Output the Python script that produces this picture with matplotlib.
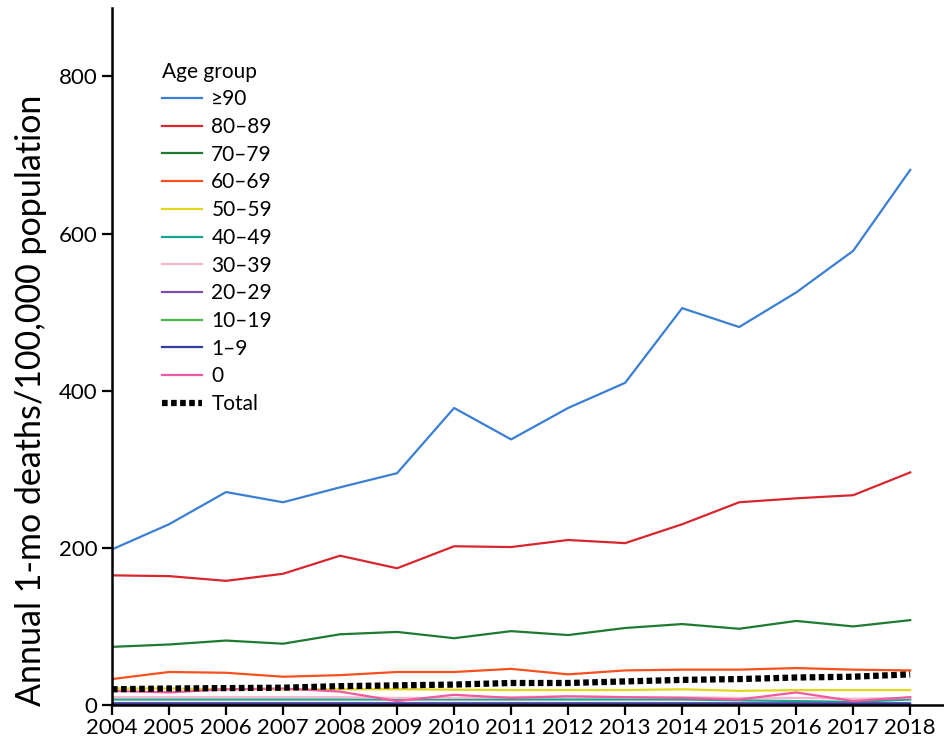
import numpy as np
import matplotlib
matplotlib.use('Agg')
import matplotlib.pyplot as plt

plt.rcParams['font.family'] = ['Lato', 'DejaVu Sans']

# Data
years = list(range(2004, 2019))
groups = ['\u226590', '80\u201389', '70\u201379', '60\u201369', '50\u201359', '40\u201349',
          '30\u201339', '20\u201329', '10\u201319', '1\u20139', '0']
age_90 = [198, 230, 271, 258, 277, 295, 378, 338, 378, 410, 505, 481, 525, 578, 681]
age_80 = [165, 164, 158, 167, 190, 174, 202, 201, 210, 206, 230, 258, 263, 267, 296]
age_70 = [74, 77, 82, 78, 90, 93, 85, 94, 89, 98, 103, 97, 107, 100, 108]
age_60 = [33, 42, 41, 36, 38, 42, 42, 46, 39, 44, 45, 45, 47, 45, 44]
age_50 = [21, 21, 20, 20, 20, 20, 19.5, 19, 19, 19, 20, 18, 19, 19, 19]
age_40 = [7, 7, 7, 7, 7, 7, 7, 7, 7, 7, 7, 6, 5, 4, 7]
age_30 = [10, 10, 10, 10, 10, 9, 9, 10, 11, 10, 10, 9, 9, 8, 9]
age_20 = [3, 3, 3, 3, 3, 3, 3, 3, 3, 3, 3, 3, 3, 3, 3]
age_10 = [1.5, 1.5, 1.5, 1.5, 1.5, 1.5, 1.5, 1.5, 1.5, 1.5, 1.5, 1.5, 1.5, 1.5, 1.5]
age_1 = [1, 1, 1, 1, 1, 1, 1, 1, 1, 1, 1, 1, 1, 1, 1]
age_0 = [18, 16, 20, 21, 17, 5, 13, 9, 11, 10, 9, 7, 16, 5, 10]
total = [20, 21, 21.5, 22, 24, 25, 26, 28, 28, 30, 32, 33, 35, 36, 39]

series = [age_90, age_80, age_70, age_60, age_50, age_40, age_30, age_20, age_10, age_1, age_0]
colors = ['#3b7fd4', '#d7262e', '#1d7a30', '#f4511e', '#e3d61c', '#1aa58e',
          '#f7b6cc', '#7b4fb0', '#4cb848', '#2e3f9e', '#ef5aa0']

fig = plt.figure(figsize=(9.45, 7.44), dpi=100)
ax = fig.add_axes([112 / 945, 39 / 744, 833 / 945, 697 / 744])

for vals, name, c in zip(series, groups, colors):
    ax.plot(years, vals, color=c, lw=1.6, label=name)
ax.plot(years, total, color='black', lw=4.5, linestyle=(0, (0.9, 0.55)), label='Total')

ax.set_xlim(2004, 2018.61)
ax.set_ylim(0, 887)
ax.set_xticks(years)
ax.set_yticks([0, 200, 400, 600, 800])
ax.set_ylabel('Annual 1-mo deaths/100,000 population', fontsize=24.5)
ax.yaxis.set_label_coords(-0.078, 0.4376)
ax.tick_params(axis='both', labelsize=16, direction='out', length=7, width=1.6)
ax.tick_params(axis='x', pad=2)
for s in ['top', 'right']:
    ax.spines[s].set_visible(False)
for s in ['left', 'bottom']:
    ax.spines[s].set_linewidth(1.8)

leg = ax.legend(title='Age group', loc='upper left', bbox_to_anchor=(0.038, 0.95),
                frameon=False, fontsize=15, title_fontsize=15, handlelength=1.9,
                labelspacing=0.37, handletextpad=0.45, alignment='left')

fig.savefig('out.png', dpi=100)
